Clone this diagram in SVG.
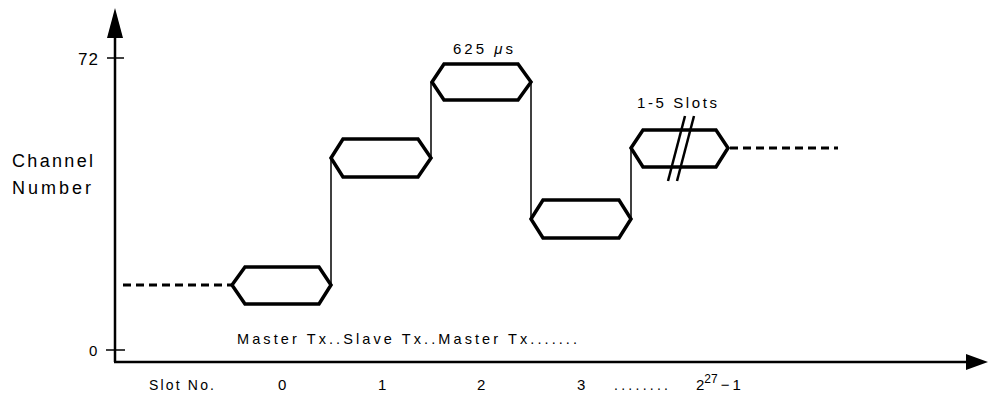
<svg xmlns="http://www.w3.org/2000/svg" width="988" height="395" viewBox="0 0 988 395">
<style>
.axis{stroke:#000;stroke-width:2.5;fill:none}
.tick{stroke:#000;stroke-width:1.5;fill:none}
.hex{stroke:#000;stroke-width:3.5;fill:#fff;stroke-linejoin:miter}
.thin{stroke:#000;stroke-width:1.5;fill:none}
.dash{stroke:#000;stroke-width:2.8;stroke-dasharray:8 5;fill:none}
.slash{stroke:#000;stroke-width:2.5;fill:none}
text{font-family:"Liberation Sans","DejaVu Sans",sans-serif;fill:#000}
</style>
<rect width="988" height="395" fill="#fff"/>
<g id="axes">
<line class="axis" x1="115" y1="362" x2="115" y2="36"/>
<polygon points="115,8 107,38 123,38" fill="#000"/>
<line class="axis" x1="114" y1="362" x2="968" y2="362"/>
<polygon points="988,362 966,354 966,370" fill="#000"/>
<line class="tick" x1="107" y1="58" x2="124" y2="58"/>
<line class="tick" x1="106" y1="350" x2="125" y2="350"/>
<text x="78" y="65" font-size="17" textLength="20" lengthAdjust="spacing">72</text>
<text x="89" y="356" font-size="15">0</text>
<text x="12" y="167" font-size="18" textLength="81" lengthAdjust="spacing">Channel</text>
<text x="12" y="194" font-size="18" textLength="79" lengthAdjust="spacing">Number</text>
</g>
<g id="connectors">
<line class="dash" x1="123" y1="285" x2="232" y2="285"/>
<line class="thin" x1="331" y1="285" x2="331" y2="158"/>
<line class="thin" x1="431" y1="158" x2="431" y2="82"/>
<line class="thin" x1="531" y1="82" x2="531" y2="219"/>
<line class="thin" x1="631" y1="219" x2="631" y2="148"/>
<line class="dash" x1="730" y1="148" x2="838" y2="148"/>
</g>
<g id="slot0">
<polygon class="hex" points="232,285 245,267 319,267 331,285 319,304 245,304"/>
</g>
<g id="slot1">
<polygon class="hex" points="331,158 343,139 418,139 431,158 418,177 343,177"/>
</g>
<g id="slot2">
<polygon class="hex" points="432,82 444,64 518,64 531,82 518,100 444,100"/>
<text x="453" y="54" font-size="15" textLength="60" lengthAdjust="spacing">625 <tspan font-style="italic">μ</tspan>s</text>
</g>
<g id="slot3">
<polygon class="hex" points="531,219 543,200 619,200 631,219 619,238 543,238"/>
</g>
<g id="slot4">
<polygon class="hex" points="631,148 643,130 716,130 728,148 716,167 643,167"/>
<line class="slash" x1="668" y1="181" x2="685" y2="116"/>
<line class="slash" x1="677" y1="181" x2="694" y2="116"/>
<text x="637" y="108" font-size="15" textLength="80" lengthAdjust="spacing">1-5 Slots</text>
</g>
<g id="labels">
<text x="237" y="344" font-size="14.5" textLength="340" lengthAdjust="spacing">Master Tx..Slave Tx..Master Tx.......</text>
<text x="149" y="390" font-size="14" textLength="65" lengthAdjust="spacing">Slot No.</text>
<text x="278" y="390" font-size="15">0</text>
<text x="378" y="390" font-size="15">1</text>
<text x="477" y="390" font-size="15">2</text>
<text x="577" y="390" font-size="15">3</text>
<text x="614" y="390" font-size="14" textLength="54" lengthAdjust="spacing">........</text>
<text x="696" y="390" font-size="15">2<tspan font-size="12" dy="-7">27</tspan><tspan dy="7" dx="3">−</tspan><tspan dx="3">1</tspan></text>
</g>
</svg>
